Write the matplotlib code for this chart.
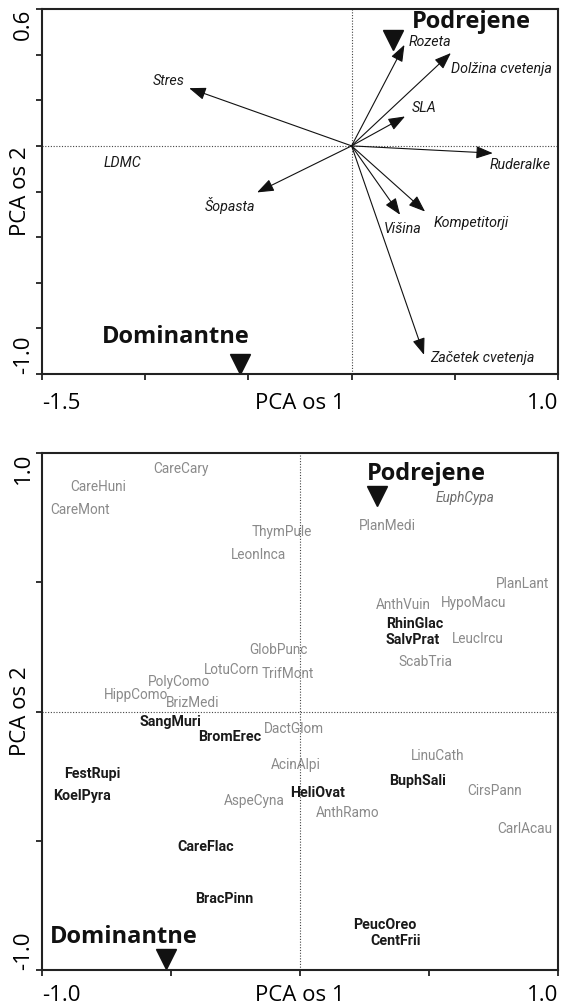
import numpy as np
import matplotlib
matplotlib.use("Agg")
import matplotlib.pyplot as plt

plt.rcParams['font.family'] = ['Open Sans', 'DejaVu Sans']
narrow = ['Roboto', 'DejaVu Sans']

# --- top panel: trait vectors (PCA scores) ---
traits = ['Rozeta', 'Dolžina cvetenja', 'SLA', 'Stres', 'Ruderalke',
          'Šopasta', 'Višina', 'Kompetitorji', 'Začetek cvetenja']
trait_x = [0.256, 0.481, 0.259, -0.787, 0.684, -0.458, 0.235, 0.356, 0.351]
trait_y = [0.443, 0.407, 0.129, 0.253, -0.032, -0.204, -0.302, -0.288, -0.916]
# label anchor (left edge) for each trait
trait_lx = [0.277, 0.481, 0.290, -0.965, 0.667, -0.713, 0.155, 0.395, 0.380]
trait_ly = [0.454, 0.338, 0.166, 0.286, -0.086, -0.263, -0.364, -0.339, -0.931]
ldmc_x, ldmc_y = -1.202, -0.076

# group centroids (triangles) and their captions, top panel
top_sub = (0.203, 0.465)
top_sub_lab = (0.290, 0.541)
top_dom = (-0.543, -0.954)
top_dom_lab = (-1.208, -0.836)

# --- bottom panel: species scores ---
grey_species = ['CareCary', 'CareHuni', 'CareMont', 'ThymPule', 'LeonInca', 'PlanMedi',
                'PlanLant', 'AnthVuin', 'HypoMacu', 'LeucIrcu', 'ScabTria', 'GlobPunc',
                'LotuCorn', 'TrifMont', 'PolyComo', 'HippComo', 'BrizMedi', 'DactGlom',
                'LinuCath', 'AcinAlpi', 'CirsPann', 'AspeCyna', 'AnthRamo', 'CarlAcau']
grey_x = [-0.460, -0.781, -0.852, -0.071, -0.161, 0.340, 0.861, 0.402, 0.671, 0.689,
          0.485, -0.082, -0.265, -0.046, -0.469, -0.635, -0.415, -0.025, 0.534, -0.017,
          0.755, -0.179, 0.186, 0.871]
grey_y = [0.938, 0.869, 0.779, 0.695, 0.607, 0.717, 0.495, 0.412, 0.421, 0.282,
          0.192, 0.237, 0.160, 0.147, 0.115, 0.064, 0.032, -0.066, -0.174, -0.207,
          -0.306, -0.345, -0.393, -0.454]
italic_species = ['EuphCypa']
italic_x = [0.638]
italic_y = [0.826]
bold_species = ['RhinGlac', 'SalvPrat', 'SangMuri', 'BromErec', 'FestRupi', 'BuphSali',
                'KoelPyra', 'HeliOvat', 'CareFlac', 'BracPinn', 'PeucOreo', 'CentFrii']
bold_x = [0.445, 0.437, -0.503, -0.272, -0.804, 0.456, -0.845, 0.067, -0.365, -0.295,
          0.330, 0.369]
bold_y = [0.337, 0.275, -0.039, -0.100, -0.242, -0.268, -0.326, -0.317, -0.525, -0.727,
          -0.824, -0.888]

bot_sub = (0.298, 0.833)
bot_sub_lab = (0.488, 0.919)
bot_dom = (-0.521, -0.956)
bot_dom_lab = (-0.684, -0.873)


def style_axes(ax, xticks, yticks, xpad, xlab_y, ylab_x):
    ax.set_xlim(xticks[0], xticks[-1])
    ax.set_ylim(yticks[0], yticks[-1])
    xl = ['' for _ in xticks]
    xl[0], xl[-1] = f'{xticks[0]:.1f}', f'{xticks[-1]:.1f}'
    yl = ['' for _ in yticks]
    yl[0], yl[-1] = f'{yticks[0]:.1f}', f'{yticks[-1]:.1f}'
    ax.set_xticks(xticks, xl)
    ax.set_yticks(yticks, yl)
    for s in ax.spines.values():
        s.set_linewidth(1.5)
        s.set_color('#222222')
    ax.tick_params(axis='x', length=4, width=1.3, pad=xpad, labelsize=16, color='#222222')
    ax.tick_params(axis='y', length=4.5, width=1.3, pad=9, labelsize=16, color='#222222')
    xt = ax.get_xticklabels()
    for t in xt:
        t.set_va('baseline')
    xt[0].set_ha('left')
    xt[-1].set_ha('right')
    yt = ax.get_yticklabels()
    for t in yt:
        t.set_rotation(90)
        t.set_ha('center')
    yt[0].set_va('bottom')
    yt[-1].set_va('top')
    ax.axhline(0, ls=(0, (1, 1.5)), lw=0.8, color='#444444', zorder=0)
    ax.axvline(0, ls=(0, (1, 1.5)), lw=0.8, color='#444444', zorder=0)
    ax.set_xlabel('PCA os 1', fontsize=16)
    ax.set_ylabel('PCA os 2', fontsize=16)
    ax.xaxis.label.set_va('baseline')
    ax.yaxis.label.set_va('center')
    ax.xaxis.set_label_coords(0.5, xlab_y)
    ax.yaxis.set_label_coords(ylab_x, 0.5)


fig = plt.figure(figsize=(5.61, 10.06), dpi=100)
W, H = 561, 1006
ax1 = fig.add_axes([42 / W, (H - 374) / H, 516 / W, 365 / H])
ax2 = fig.add_axes([42 / W, (H - 970) / H, 516 / W, 517 / H])

# x tick label baselines: 409 px (top panel), 1001 px (bottom panel)
style_axes(ax1, np.round(np.arange(-1.5, 1.01, 0.5), 1), np.round(np.arange(-1.0, 0.61, 0.2), 1),
           (409 - 374 - 5.6) * 0.72, -(409 - 374) / 365, -0.042)
style_axes(ax2, np.round(np.arange(-1.0, 1.01, 0.5), 1), np.round(np.arange(-1.0, 1.01, 0.5), 1),
           (1001 - 970 - 5.6) * 0.72, -(1001 - 970) / 517, -0.042)

# trait arrows
for name, x, y, lx, ly in zip(traits, trait_x, trait_y, trait_lx, trait_ly):
    ax1.annotate('', xy=(x, y), xytext=(0, 0),
                 arrowprops=dict(arrowstyle='-|>,head_length=0.85,head_width=0.32',
                                 lw=0.8, color='#111111', shrinkA=0, shrinkB=0,
                                 mutation_scale=12))
    ax1.text(lx, ly, name, family=narrow, style='italic', fontsize=10.3,
             ha='left', va='center', color='#1a1a1a')
ax1.text(ldmc_x, ldmc_y, 'LDMC', family=narrow, style='italic', fontsize=10.3,
         ha='left', va='center', color='#1a1a1a')

ax1.plot(*top_sub, marker='v', ms=15, color='#111111', ls='none')
ax1.plot(*top_dom, marker='v', ms=15, color='#111111', ls='none', clip_on=False)
ax1.text(*top_sub_lab, 'Podrejene', fontsize=17, fontweight='bold', ha='left', va='center',
         color='#111111')
ax1.text(*top_dom_lab, 'Dominantne', fontsize=17, fontweight='bold', ha='left', va='center',
         color='#111111')

# species
for name, x, y in zip(grey_species, grey_x, grey_y):
    ax2.text(x, y, name, family=narrow, fontsize=9.8, color='#8a8a8a', ha='center', va='center')
for name, x, y in zip(italic_species, italic_x, italic_y):
    ax2.text(x, y, name, family=narrow, style='italic', fontsize=9.8, color='#6e6e6e',
             ha='center', va='center')
for name, x, y in zip(bold_species, bold_x, bold_y):
    ax2.text(x, y, name, family=narrow, fontweight='bold', fontsize=10.3, color='#1a1a1a',
             ha='center', va='center')

ax2.plot(*bot_sub, marker='v', ms=15, color='#111111', ls='none')
ax2.plot(*bot_dom, marker='v', ms=15, color='#111111', ls='none', clip_on=False)
ax2.text(*bot_sub_lab, 'Podrejene', fontsize=17, fontweight='bold', ha='center', va='center',
         color='#111111')
ax2.text(*bot_dom_lab, 'Dominantne', fontsize=17, fontweight='bold', ha='center', va='center',
         color='#111111')

fig.savefig('out.png', dpi=100)
